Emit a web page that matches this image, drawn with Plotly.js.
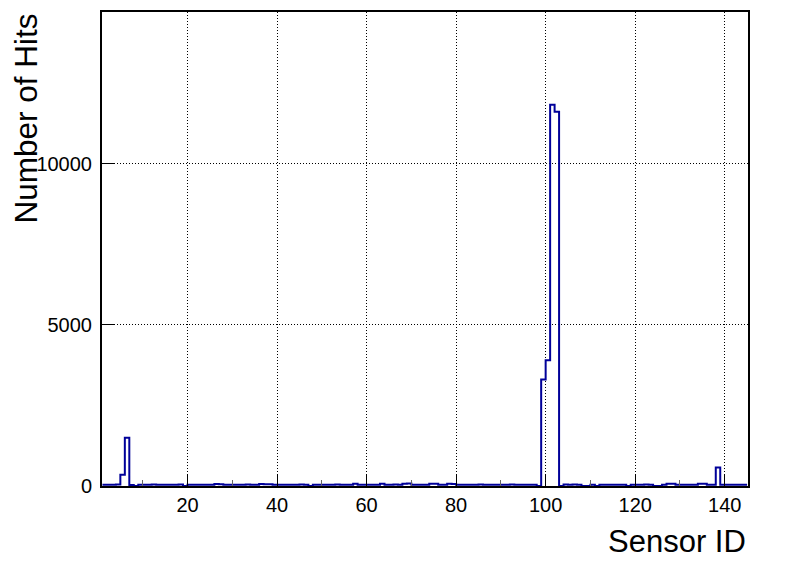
<!DOCTYPE html>
<html>
<head>
<meta charset="utf-8">
<script src="https://cdn.plot.ly/plotly-3.0.1.min.js"></script>
<style>html,body{margin:0;padding:0;background:#fff;}#chart{width:796px;height:573px;}</style>
</head>
<body>
<div id="chart"></div>
<script>
// Histogram: hits per sensor, bins of width 1 starting at sensor ID 1
const binStart = 1;
const binWidth = 1;
const hits = [
  40, 35, 40, 45, 350, 1500, 30, 0, 40, 40,
  40, 45, 40, 40, 35, 40, 40, 45, 0, 40,
  40, 40, 35, 40, 40, 60, 55, 40, 40, 35,
  40, 40, 45, 40, 40, 60, 55, 55, 40, 40,
  40, 35, 40, 40, 45, 40, 0, 40, 40, 35,
  40, 40, 45, 40, 40, 40, 70, 40, 40, 40,
  35, 40, 70, 40, 40, 45, 40, 70, 75, 40,
  40, 40, 35, 70, 70, 40, 40, 70, 65, 40,
  40, 35, 40, 40, 45, 40, 40, 35, 40, 40,
  40, 45, 40, 40, 40, 35, 40, 0, 3300, 3900,
  11820, 11610, 0, 45, 40, 45, 40, 0, 0, 40,
  0, 40, 40, 40, 35, 40, 40, 0, 40, 40,
  40, 45, 40, 0, 0, 40, 70, 70, 40, 40,
  35, 40, 40, 70, 70, 40, 40, 570, 40, 40,
  40, 35, 40, 40
];
const xTickVals = [20, 40, 60, 80, 100, 120, 140];
const yTickVals = [0, 5000, 10000];
const xTitle = 'Sensor ID';
const yTitle = 'Number of Hits';

// step outline: left edge of each bin, plus closing right edge
const edges = hits.map((_, i) => binStart + i * binWidth);
edges.push(binStart + hits.length * binWidth);
const stepY = hits.slice();
stepY.push(hits[hits.length - 1]);

const font = 'Liberation Sans, Arial, Helvetica, sans-serif';

const trace = {
  x: edges,
  y: stepY,
  type: 'scatter',
  mode: 'lines',
  line: {shape: 'hv', color: '#000099', width: 2},
  hoverinfo: 'skip',
  showlegend: false
};

const layout = {
  width: 796,
  height: 573,
  margin: {l: 102, r: 48, t: 12, b: 87, pad: 0},
  paper_bgcolor: '#ffffff',
  plot_bgcolor: '#ffffff',
  font: {family: font, color: '#000', size: 20},
  xaxis: {
    range: [0.9, 145.2],
    tickvals: xTickVals,
    ticktext: xTickVals.map(String),
    ticks: 'inside',
    ticklen: 12,
    tickwidth: 1,
    tickcolor: '#000',
    minor: {dtick: 10, tick0: 0, ticks: 'inside', ticklen: 6, tickwidth: 1, tickcolor: '#666', showgrid: false},
    showgrid: true,
    gridcolor: '#000',
    griddash: '1px,2px',
    gridwidth: 1,
    showline: true,
    linecolor: '#000',
    linewidth: 2,
    mirror: true,
    zeroline: false,
    tickfont: {family: font, size: 20, color: '#000'}
  },
  yaxis: {
    range: [0, 14700],
    tickvals: yTickVals,
    ticktext: yTickVals.map(String),
    ticks: 'inside',
    ticklen: 12,
    tickwidth: 1,
    tickcolor: '#000',
    showgrid: true,
    gridcolor: '#000',
    griddash: '1px,2px',
    gridwidth: 1,
    showline: true,
    linecolor: '#000',
    linewidth: 2,
    mirror: true,
    zeroline: false,
    ticklabelstandoff: 4,
    tickfont: {family: font, size: 20, color: '#000'}
  },
  annotations: [
    {
      text: xTitle, xref: 'paper', yref: 'paper',
      x: 1.0, y: -0.118, xanchor: 'right', yanchor: 'middle',
      showarrow: false, font: {family: font, size: 31, color: '#000'}
    },
    {
      text: yTitle, xref: 'paper', yref: 'paper',
      x: -0.117, y: 0.776, xanchor: 'center', yanchor: 'middle', textangle: -90,
      showarrow: false, font: {family: font, size: 31.5, color: '#000'}
    }
  ]
};

Plotly.newPlot('chart', [trace], layout, {staticPlot: true, displayModeBar: false});
</script>
</body>
</html>
